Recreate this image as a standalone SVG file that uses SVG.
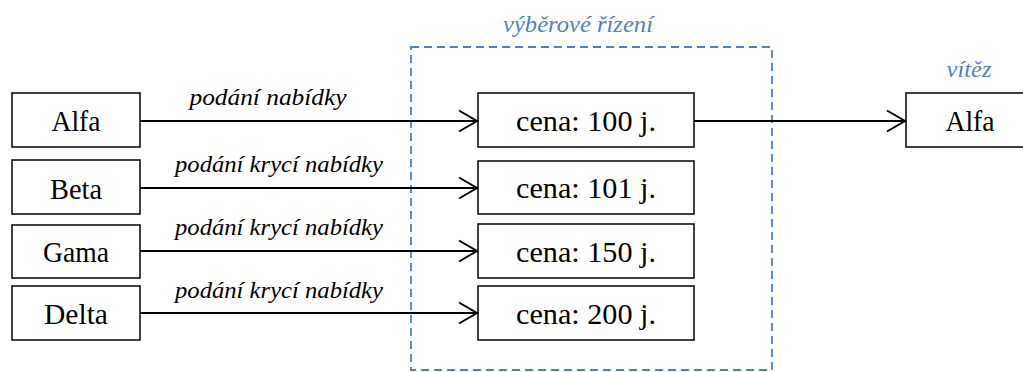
<svg xmlns="http://www.w3.org/2000/svg" width="1023" height="372" viewBox="0 0 1023 372">
  <defs>
    <marker id="chev" markerUnits="userSpaceOnUse" markerWidth="24" markerHeight="26" viewBox="0 0 24 26" refX="20" refY="13" orient="auto">
      <path d="M2,2.5 L20,13 L2,23.5" fill="none" stroke="#000" stroke-width="2"/>
    </marker>
    <style>
      .box { fill: #fff; stroke: #000; stroke-width: 1.5; }
      .name { font-family: "Liberation Serif", serif; font-size: 29px; fill: #000; text-anchor: middle; }
      .edge { fill: none; stroke: #000; stroke-width: 2; marker-end: url(#chev); }
      .lbl { font-family: "Liberation Serif", serif; font-style: italic; font-size: 24px; fill: #000; text-anchor: middle; }
      .blue { font-family: "Liberation Serif", serif; font-style: italic; font-size: 24px; fill: #4f81bd; text-anchor: middle; }
      .frame { fill: none; stroke: #4f81bd; stroke-width: 1.8; stroke-dasharray: 8 5; }
    </style>
  </defs>

  <!-- tender frame -->
  <g id="tender">
    <rect class="frame" x="411" y="47" width="361" height="323"/>
    <text class="blue" x="578" y="32" textLength="150" lengthAdjust="spacingAndGlyphs">výběrové řízení</text>
  </g>

  <!-- bidders -->
  <g id="alfa">
    <rect class="box" x="12" y="93" width="128" height="54"/>
    <text class="name" x="76" y="131" textLength="49" lengthAdjust="spacingAndGlyphs">Alfa</text>
  </g>
  <g id="beta">
    <rect class="box" x="12" y="160" width="128" height="54"/>
    <text class="name" x="76" y="199" textLength="52" lengthAdjust="spacingAndGlyphs">Beta</text>
  </g>
  <g id="gama">
    <rect class="box" x="12" y="225" width="128" height="53"/>
    <text class="name" x="76" y="262" textLength="66" lengthAdjust="spacingAndGlyphs">Gama</text>
  </g>
  <g id="delta">
    <rect class="box" x="12" y="286" width="128" height="54"/>
    <text class="name" x="76" y="324" textLength="64" lengthAdjust="spacingAndGlyphs">Delta</text>
  </g>

  <!-- bids -->
  <g id="bid100">
    <rect class="box" x="478" y="93" width="216" height="54"/>
    <text class="name" x="586" y="131" textLength="140" lengthAdjust="spacingAndGlyphs">cena: 100 j.</text>
  </g>
  <g id="bid101">
    <rect class="box" x="478" y="161" width="216" height="53"/>
    <text class="name" x="586" y="198" textLength="140" lengthAdjust="spacingAndGlyphs">cena: 101 j.</text>
  </g>
  <g id="bid150">
    <rect class="box" x="478" y="224" width="216" height="54"/>
    <text class="name" x="586" y="262" textLength="140" lengthAdjust="spacingAndGlyphs">cena: 150 j.</text>
  </g>
  <g id="bid200">
    <rect class="box" x="478" y="286" width="216" height="54"/>
    <text class="name" x="586" y="324" textLength="140" lengthAdjust="spacingAndGlyphs">cena: 200 j.</text>
  </g>

  <!-- winner -->
  <g id="winner">
    <rect class="box" x="906" y="93" width="128" height="54"/>
    <text class="name" x="970" y="131" textLength="49" lengthAdjust="spacingAndGlyphs">Alfa</text>
    <text class="blue" x="969" y="77" textLength="45" lengthAdjust="spacingAndGlyphs">vítěz</text>
  </g>

  <!-- connectors -->
  <g id="connectors">
    <line class="edge" x1="140" y1="121" x2="477" y2="121"/>
    <line class="edge" x1="140" y1="188" x2="477" y2="188"/>
    <line class="edge" x1="140" y1="251" x2="477" y2="251"/>
    <line class="edge" x1="140" y1="313" x2="477" y2="313"/>
    <line class="edge" x1="694" y1="121" x2="905" y2="121"/>
    <text class="lbl" x="268" y="105" textLength="157" lengthAdjust="spacingAndGlyphs">podání nabídky</text>
    <text class="lbl" x="279" y="172" textLength="208" lengthAdjust="spacingAndGlyphs">podání krycí nabídky</text>
    <text class="lbl" x="279" y="235" textLength="208" lengthAdjust="spacingAndGlyphs">podání krycí nabídky</text>
    <text class="lbl" x="279" y="298" textLength="208" lengthAdjust="spacingAndGlyphs">podání krycí nabídky</text>
  </g>
</svg>
